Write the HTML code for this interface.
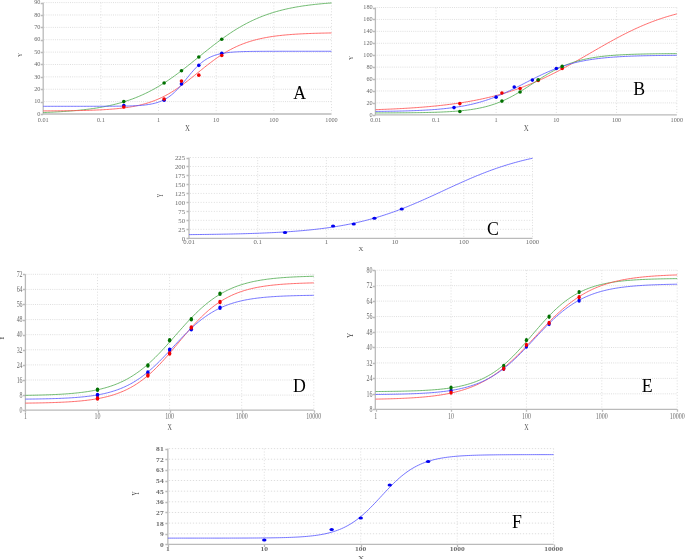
<!DOCTYPE html>
<html><head><meta charset="utf-8"><style>
html,body{margin:0;padding:0;background:#fff;}
body{width:685px;height:559px;overflow:hidden;}
svg{display:block;font-family:"Liberation Serif",serif;filter:blur(0.3px);}
</style></head><body>
<svg width="685" height="559" viewBox="0 0 685 559">
<rect width="685" height="559" fill="#fff"/>
<g><path d="M44.2 101.62H331.5M44.2 89.24H331.5M44.2 76.87H331.5M44.2 64.49H331.5M44.2 52.11H331.5M44.2 39.73H331.5M44.2 27.36H331.5M44.2 14.98H331.5M44.2 2.6H331.5" stroke="#dedede" stroke-width="1" stroke-dasharray="1 1.15" fill="none"/><path d="M100.86 2.6V113M158.52 2.6V113M216.18 2.6V113M273.84 2.6V113M331.5 2.6V113" stroke="#dedede" stroke-width="1" stroke-dasharray="1 1.9" fill="none"/><path d="M43.2 2.6V114M43.2 114H331.5M40.7 114.5H43.2M40.7 102.5H43.2M40.7 89.5H43.2M40.7 77.5H43.2M40.7 64.5H43.2M40.7 52.5H43.2M40.7 40.5H43.2M40.7 27.5H43.2M40.7 15.5H43.2M40.7 3.5H43.2" stroke="#bababa" stroke-width="1.3" fill="none"/><g font-size="6.7" fill="#6a6a6a"><text transform="translate(40.4 115.71) scale(0.93 1)" text-anchor="end">0</text><text transform="translate(40.4 103.33) scale(0.93 1)" text-anchor="end">10</text><text transform="translate(40.4 90.96) scale(0.93 1)" text-anchor="end">20</text><text transform="translate(40.4 78.58) scale(0.93 1)" text-anchor="end">30</text><text transform="translate(40.4 66.2) scale(0.93 1)" text-anchor="end">40</text><text transform="translate(40.4 53.82) scale(0.93 1)" text-anchor="end">50</text><text transform="translate(40.4 41.44) scale(0.93 1)" text-anchor="end">60</text><text transform="translate(40.4 29.07) scale(0.93 1)" text-anchor="end">70</text><text transform="translate(40.4 16.69) scale(0.93 1)" text-anchor="end">80</text><text transform="translate(40.4 4.31) scale(0.93 1)" text-anchor="end">90</text><text transform="translate(43.2 121.9) scale(0.93 1)" text-anchor="middle">0.01</text><text transform="translate(100.86 121.9) scale(0.93 1)" text-anchor="middle">0.1</text><text transform="translate(158.52 121.9) scale(0.93 1)" text-anchor="middle">1</text><text transform="translate(216.18 121.9) scale(0.93 1)" text-anchor="middle">10</text><text transform="translate(273.84 121.9) scale(0.93 1)" text-anchor="middle">100</text><text transform="translate(331.5 121.9) scale(0.93 1)" text-anchor="middle">1000</text></g><text transform="translate(187.5 130.9) scale(0.93 1)" text-anchor="middle" font-size="7.4" fill="#555">X</text><text transform="translate(19.5 54.8) scale(1.08 0.89) rotate(-90)" text-anchor="middle" y="2.13" font-size="6.5" fill="#444">Y</text><path d="M43.2 112.52L44.64 112.46L46.08 112.4L47.52 112.34L48.97 112.28L50.41 112.22L51.85 112.15L53.29 112.08L54.73 112.01L56.17 111.93L57.62 111.85L59.06 111.77L60.5 111.68L61.94 111.59L63.38 111.5L64.82 111.41L66.26 111.31L67.71 111.2L69.15 111.09L70.59 110.98L72.03 110.86L73.47 110.74L74.91 110.61L76.35 110.48L77.8 110.35L79.24 110.2L80.68 110.06L82.12 109.9L83.56 109.74L85 109.58L86.44 109.4L87.89 109.23L89.33 109.04L90.77 108.85L92.21 108.65L93.65 108.44L95.09 108.22L96.54 108L97.98 107.77L99.42 107.52L100.86 107.27L102.3 107.02L103.74 106.75L105.18 106.47L106.63 106.18L108.07 105.88L109.51 105.57L110.95 105.25L112.39 104.92L113.83 104.57L115.28 104.21L116.72 103.85L118.16 103.46L119.6 103.07L121.04 102.66L122.48 102.24L123.92 101.8L125.37 101.35L126.81 100.89L128.25 100.41L129.69 99.91L131.13 99.4L132.57 98.88L134.01 98.33L135.46 97.77L136.9 97.2L138.34 96.61L139.78 96L141.22 95.37L142.66 94.72L144.11 94.06L145.55 93.38L146.99 92.68L148.43 91.96L149.87 91.23L151.31 90.47L152.75 89.7L154.2 88.91L155.64 88.1L157.08 87.27L158.52 86.42L159.96 85.56L161.4 84.68L162.84 83.78L164.29 82.86L165.73 81.92L167.17 80.97L168.61 80L170.05 79.02L171.49 78.02L172.94 77L174.38 75.97L175.82 74.93L177.26 73.87L178.7 72.8L180.14 71.71L181.58 70.62L183.03 69.51L184.47 68.4L185.91 67.27L187.35 66.14L188.79 65L190.23 63.85L191.67 62.7L193.12 61.54L194.56 60.38L196 59.22L197.44 58.05L198.88 56.89L200.32 55.72L201.77 54.56L203.21 53.39L204.65 52.23L206.09 51.08L207.53 49.93L208.97 48.79L210.41 47.65L211.86 46.52L213.3 45.4L214.74 44.29L216.18 43.19L217.62 42.1L219.06 41.02L220.5 39.95L221.95 38.9L223.39 37.86L224.83 36.84L226.27 35.83L227.71 34.84L229.15 33.86L230.6 32.9L232.04 31.95L233.48 31.03L234.92 30.12L236.36 29.23L237.8 28.35L239.24 27.5L240.69 26.66L242.13 25.84L243.57 25.04L245.01 24.25L246.45 23.49L247.89 22.75L249.33 22.02L250.78 21.31L252.22 20.62L253.66 19.95L255.1 19.29L256.54 18.65L257.98 18.03L259.43 17.43L260.87 16.85L262.31 16.28L263.75 15.73L265.19 15.19L266.63 14.67L268.07 14.17L269.52 13.68L270.96 13.21L272.4 12.75L273.84 12.31L275.28 11.88L276.72 11.46L278.16 11.06L279.61 10.67L281.05 10.3L282.49 9.93L283.93 9.58L285.37 9.24L286.81 8.92L288.25 8.6L289.7 8.3L291.14 8L292.58 7.72L294.02 7.44L295.46 7.18L296.9 6.92L298.35 6.68L299.79 6.44L301.23 6.21L302.67 5.99L304.11 5.78L305.55 5.58L306.99 5.38L308.44 5.19L309.88 5.01L311.32 4.83L312.76 4.66L314.2 4.5L315.64 4.34L317.08 4.19L318.53 4.05L319.97 3.91L321.41 3.77L322.85 3.64L324.29 3.52L325.73 3.4L327.18 3.28L328.62 3.17L330.06 3.07L331.5 2.96" stroke="#55ad55" stroke-width="0.85" fill="none"/><path d="M43.2 110.9L44.64 110.9L46.08 110.89L47.52 110.88L48.97 110.88L50.41 110.87L51.85 110.86L53.29 110.85L54.73 110.84L56.17 110.83L57.62 110.82L59.06 110.81L60.5 110.79L61.94 110.78L63.38 110.77L64.82 110.75L66.26 110.74L67.71 110.72L69.15 110.7L70.59 110.68L72.03 110.66L73.47 110.64L74.91 110.62L76.35 110.59L77.8 110.57L79.24 110.54L80.68 110.51L82.12 110.48L83.56 110.44L85 110.41L86.44 110.37L87.89 110.33L89.33 110.29L90.77 110.24L92.21 110.19L93.65 110.14L95.09 110.08L96.54 110.03L97.98 109.96L99.42 109.9L100.86 109.83L102.3 109.76L103.74 109.68L105.18 109.59L106.63 109.5L108.07 109.41L109.51 109.31L110.95 109.2L112.39 109.09L113.83 108.97L115.28 108.84L116.72 108.71L118.16 108.57L119.6 108.42L121.04 108.26L122.48 108.09L123.92 107.91L125.37 107.72L126.81 107.52L128.25 107.3L129.69 107.08L131.13 106.84L132.57 106.59L134.01 106.32L135.46 106.04L136.9 105.75L138.34 105.44L139.78 105.11L141.22 104.76L142.66 104.39L144.11 104.01L145.55 103.61L146.99 103.18L148.43 102.74L149.87 102.27L151.31 101.78L152.75 101.26L154.2 100.72L155.64 100.16L157.08 99.57L158.52 98.95L159.96 98.31L161.4 97.64L162.84 96.95L164.29 96.23L165.73 95.47L167.17 94.7L168.61 93.89L170.05 93.06L171.49 92.19L172.94 91.31L174.38 90.39L175.82 89.45L177.26 88.48L178.7 87.49L180.14 86.48L181.58 85.44L183.03 84.39L184.47 83.31L185.91 82.21L187.35 81.1L188.79 79.98L190.23 78.84L191.67 77.69L193.12 76.53L194.56 75.37L196 74.2L197.44 73.02L198.88 71.85L200.32 70.68L201.77 69.51L203.21 68.35L204.65 67.2L206.09 66.05L207.53 64.92L208.97 63.8L210.41 62.7L211.86 61.61L213.3 60.54L214.74 59.49L216.18 58.46L217.62 57.46L219.06 56.47L220.5 55.51L221.95 54.58L223.39 53.67L224.83 52.78L226.27 51.92L227.71 51.09L229.15 50.28L230.6 49.5L232.04 48.75L233.48 48.02L234.92 47.32L236.36 46.64L237.8 45.99L239.24 45.36L240.69 44.76L242.13 44.18L243.57 43.63L245.01 43.1L246.45 42.59L247.89 42.1L249.33 41.63L250.78 41.19L252.22 40.76L253.66 40.35L255.1 39.96L256.54 39.59L257.98 39.24L259.43 38.9L260.87 38.58L262.31 38.27L263.75 37.98L265.19 37.7L266.63 37.44L268.07 37.18L269.52 36.94L270.96 36.72L272.4 36.5L273.84 36.29L275.28 36.1L276.72 35.91L278.16 35.74L279.61 35.57L281.05 35.41L282.49 35.26L283.93 35.11L285.37 34.98L286.81 34.85L288.25 34.73L289.7 34.61L291.14 34.5L292.58 34.39L294.02 34.3L295.46 34.2L296.9 34.11L298.35 34.03L299.79 33.95L301.23 33.87L302.67 33.8L304.11 33.73L305.55 33.67L306.99 33.61L308.44 33.55L309.88 33.49L311.32 33.44L312.76 33.39L314.2 33.34L315.64 33.3L317.08 33.26L318.53 33.22L319.97 33.18L321.41 33.14L322.85 33.11L324.29 33.08L325.73 33.05L327.18 33.02L328.62 32.99L330.06 32.97L331.5 32.94" stroke="#ff5252" stroke-width="0.85" fill="none"/><path d="M43.2 106.3L44.64 106.3L46.08 106.3L47.52 106.3L48.97 106.3L50.41 106.3L51.85 106.3L53.29 106.3L54.73 106.3L56.17 106.3L57.62 106.3L59.06 106.3L60.5 106.3L61.94 106.3L63.38 106.3L64.82 106.3L66.26 106.3L67.71 106.3L69.15 106.3L70.59 106.3L72.03 106.3L73.47 106.3L74.91 106.3L76.35 106.3L77.8 106.3L79.24 106.3L80.68 106.3L82.12 106.3L83.56 106.3L85 106.3L86.44 106.29L87.89 106.29L89.33 106.29L90.77 106.29L92.21 106.29L93.65 106.29L95.09 106.29L96.54 106.28L97.98 106.28L99.42 106.28L100.86 106.28L102.3 106.27L103.74 106.27L105.18 106.26L106.63 106.26L108.07 106.25L109.51 106.25L110.95 106.24L112.39 106.23L113.83 106.22L115.28 106.21L116.72 106.19L118.16 106.18L119.6 106.16L121.04 106.14L122.48 106.12L123.92 106.1L125.37 106.07L126.81 106.04L128.25 106L129.69 105.96L131.13 105.92L132.57 105.86L134.01 105.8L135.46 105.73L136.9 105.66L138.34 105.57L139.78 105.47L141.22 105.36L142.66 105.23L144.11 105.09L145.55 104.92L146.99 104.74L148.43 104.53L149.87 104.3L151.31 104.03L152.75 103.73L154.2 103.4L155.64 103.02L157.08 102.6L158.52 102.13L159.96 101.6L161.4 101.02L162.84 100.37L164.29 99.65L165.73 98.86L167.17 97.99L168.61 97.04L170.05 96L171.49 94.88L172.94 93.66L174.38 92.36L175.82 90.98L177.26 89.51L178.7 87.97L180.14 86.36L181.58 84.7L183.03 82.98L184.47 81.23L185.91 79.47L187.35 77.69L188.79 75.93L190.23 74.19L191.67 72.48L193.12 70.83L194.56 69.23L196 67.71L197.44 66.26L198.88 64.9L200.32 63.62L201.77 62.43L203.21 61.32L204.65 60.31L206.09 59.37L207.53 58.52L208.97 57.75L210.41 57.05L211.86 56.41L213.3 55.84L214.74 55.33L216.18 54.87L217.62 54.46L219.06 54.09L220.5 53.77L221.95 53.48L223.39 53.22L224.83 52.99L226.27 52.79L227.71 52.61L229.15 52.45L230.6 52.31L232.04 52.19L233.48 52.08L234.92 51.98L236.36 51.9L237.8 51.82L239.24 51.76L240.69 51.7L242.13 51.65L243.57 51.6L245.01 51.56L246.45 51.53L247.89 51.5L249.33 51.47L250.78 51.44L252.22 51.42L253.66 51.41L255.1 51.39L256.54 51.37L257.98 51.36L259.43 51.35L260.87 51.34L262.31 51.33L263.75 51.33L265.19 51.32L266.63 51.31L268.07 51.31L269.52 51.3L270.96 51.3L272.4 51.3L273.84 51.29L275.28 51.29L276.72 51.29L278.16 51.29L279.61 51.28L281.05 51.28L282.49 51.28L283.93 51.28L285.37 51.28L286.81 51.28L288.25 51.28L289.7 51.28L291.14 51.28L292.58 51.28L294.02 51.27L295.46 51.27L296.9 51.27L298.35 51.27L299.79 51.27L301.23 51.27L302.67 51.27L304.11 51.27L305.55 51.27L306.99 51.27L308.44 51.27L309.88 51.27L311.32 51.27L312.76 51.27L314.2 51.27L315.64 51.27L317.08 51.27L318.53 51.27L319.97 51.27L321.41 51.27L322.85 51.27L324.29 51.27L325.73 51.27L327.18 51.27L328.62 51.27L330.06 51.27L331.5 51.27" stroke="#5c5cff" stroke-width="0.85" fill="none"/><ellipse cx="123.81" cy="105.58" rx="1.8" ry="1.8" fill="#0000f0"/><ellipse cx="164.11" cy="100.26" rx="1.8" ry="1.8" fill="#0000f0"/><ellipse cx="181.47" cy="83.92" rx="1.8" ry="1.8" fill="#0000f0"/><ellipse cx="198.82" cy="65.36" rx="1.8" ry="1.8" fill="#0000f0"/><ellipse cx="221.77" cy="53.23" rx="1.8" ry="1.8" fill="#0000f0"/><ellipse cx="123.81" cy="101.62" rx="1.8" ry="1.8" fill="#007000"/><ellipse cx="164.11" cy="82.93" rx="1.8" ry="1.8" fill="#007000"/><ellipse cx="181.47" cy="70.8" rx="1.8" ry="1.8" fill="#007000"/><ellipse cx="198.82" cy="56.94" rx="1.8" ry="1.8" fill="#007000"/><ellipse cx="221.77" cy="39.24" rx="1.8" ry="1.8" fill="#007000"/><ellipse cx="123.81" cy="107.07" rx="1.8" ry="1.8" fill="#f00000"/><ellipse cx="164.11" cy="99.02" rx="1.8" ry="1.8" fill="#f00000"/><ellipse cx="181.47" cy="81.08" rx="1.8" ry="1.8" fill="#f00000"/><ellipse cx="198.82" cy="75.13" rx="1.8" ry="1.8" fill="#f00000"/><ellipse cx="221.77" cy="55.45" rx="1.8" ry="1.8" fill="#f00000"/><text x="293.3" y="99" font-size="17.8" fill="#000">A</text></g>
<g><path d="M376.65 102.88H676.8M376.65 90.96H676.8M376.65 79.03H676.8M376.65 67.11H676.8M376.65 55.19H676.8M376.65 43.27H676.8M376.65 31.34H676.8M376.65 19.42H676.8M376.65 7.5H676.8" stroke="#dedede" stroke-width="1" stroke-dasharray="1 1.15" fill="none"/><path d="M435.88 7.5V113.8M496.11 7.5V113.8M556.34 7.5V113.8M616.57 7.5V113.8M676.8 7.5V113.8" stroke="#dedede" stroke-width="1" stroke-dasharray="1 1.9" fill="none"/><path d="M375.4 7.5V114.8M375.4 114.8H676.8M372.9 115.5H375.4M372.9 103.5H375.4M372.9 91.5H375.4M372.9 79.5H375.4M372.9 67.5H375.4M372.9 55.5H375.4M372.9 43.5H375.4M372.9 31.5H375.4M372.9 19.5H375.4M372.9 8.5H375.4" stroke="#bababa" stroke-width="1.3" fill="none"/><g font-size="6.7" fill="#6a6a6a"><text transform="translate(372.6 116.51) scale(0.93 1)" text-anchor="end">0</text><text transform="translate(372.6 104.59) scale(0.93 1)" text-anchor="end">20</text><text transform="translate(372.6 92.67) scale(0.93 1)" text-anchor="end">40</text><text transform="translate(372.6 80.74) scale(0.93 1)" text-anchor="end">60</text><text transform="translate(372.6 68.82) scale(0.93 1)" text-anchor="end">80</text><text transform="translate(372.6 56.9) scale(0.93 1)" text-anchor="end">100</text><text transform="translate(372.6 44.98) scale(0.93 1)" text-anchor="end">120</text><text transform="translate(372.6 33.06) scale(0.93 1)" text-anchor="end">140</text><text transform="translate(372.6 21.13) scale(0.93 1)" text-anchor="end">160</text><text transform="translate(372.6 9.21) scale(0.93 1)" text-anchor="end">180</text><text transform="translate(375.65 121.9) scale(0.93 1)" text-anchor="middle">0.01</text><text transform="translate(435.88 121.9) scale(0.93 1)" text-anchor="middle">0.1</text><text transform="translate(496.11 121.9) scale(0.93 1)" text-anchor="middle">1</text><text transform="translate(556.34 121.9) scale(0.93 1)" text-anchor="middle">10</text><text transform="translate(616.57 121.9) scale(0.93 1)" text-anchor="middle">100</text><text transform="translate(676.8 121.9) scale(0.93 1)" text-anchor="middle">1000</text></g><text transform="translate(526.2 130.8) scale(0.93 1)" text-anchor="middle" font-size="7.4" fill="#555">X</text><text transform="translate(350.4 58) scale(1.08 0.89) rotate(-90)" text-anchor="middle" y="2.13" font-size="6.5" fill="#444">Y</text><path d="M375.65 109.67L377.16 109.61L378.66 109.56L380.17 109.51L381.67 109.45L383.18 109.39L384.68 109.33L386.19 109.27L387.7 109.21L389.2 109.14L390.71 109.08L392.21 109.01L393.72 108.94L395.22 108.86L396.73 108.79L398.24 108.71L399.74 108.63L401.25 108.55L402.75 108.47L404.26 108.39L405.76 108.3L407.27 108.21L408.78 108.12L410.28 108.02L411.79 107.92L413.29 107.82L414.8 107.72L416.31 107.61L417.81 107.5L419.32 107.39L420.82 107.28L422.33 107.16L423.83 107.04L425.34 106.91L426.85 106.79L428.35 106.65L429.86 106.52L431.36 106.38L432.87 106.24L434.37 106.09L435.88 105.94L437.39 105.79L438.89 105.63L440.4 105.47L441.9 105.3L443.41 105.13L444.91 104.96L446.42 104.78L447.93 104.59L449.43 104.4L450.94 104.21L452.44 104.01L453.95 103.81L455.45 103.6L456.96 103.38L458.47 103.16L459.97 102.94L461.48 102.71L462.98 102.47L464.49 102.23L465.99 101.98L467.5 101.72L469.01 101.46L470.51 101.19L472.02 100.92L473.52 100.64L475.03 100.35L476.54 100.05L478.04 99.75L479.55 99.44L481.05 99.13L482.56 98.8L484.06 98.47L485.57 98.13L487.08 97.79L488.58 97.43L490.09 97.07L491.59 96.7L493.1 96.32L494.6 95.94L496.11 95.54L497.62 95.14L499.12 94.72L500.63 94.3L502.13 93.87L503.64 93.43L505.14 92.98L506.65 92.52L508.16 92.06L509.66 91.58L511.17 91.09L512.67 90.6L514.18 90.09L515.68 89.58L517.19 89.05L518.7 88.52L520.2 87.97L521.71 87.42L523.21 86.86L524.72 86.28L526.22 85.7L527.73 85.1L529.24 84.5L530.74 83.89L532.25 83.26L533.75 82.63L535.26 81.99L536.77 81.33L538.27 80.67L539.78 80L541.28 79.32L542.79 78.63L544.29 77.92L545.8 77.21L547.31 76.49L548.81 75.77L550.32 75.03L551.82 74.28L553.33 73.53L554.83 72.77L556.34 72L557.85 71.22L559.35 70.43L560.86 69.64L562.36 68.84L563.87 68.03L565.37 67.22L566.88 66.4L568.39 65.57L569.89 64.74L571.4 63.9L572.9 63.06L574.41 62.21L575.91 61.36L577.42 60.51L578.93 59.65L580.43 58.78L581.94 57.92L583.44 57.05L584.95 56.18L586.45 55.31L587.96 54.44L589.47 53.57L590.97 52.7L592.48 51.82L593.98 50.95L595.49 50.08L597 49.21L598.5 48.35L600.01 47.48L601.51 46.62L603.02 45.76L604.52 44.9L606.03 44.05L607.54 43.2L609.04 42.36L610.55 41.52L612.05 40.69L613.56 39.87L615.06 39.05L616.57 38.24L618.08 37.43L619.58 36.63L621.09 35.85L622.59 35.06L624.1 34.29L625.6 33.53L627.11 32.77L628.62 32.03L630.12 31.29L631.63 30.56L633.13 29.85L634.64 29.14L636.14 28.44L637.65 27.76L639.16 27.08L640.66 26.42L642.17 25.77L643.67 25.13L645.18 24.5L646.68 23.88L648.19 23.27L649.7 22.68L651.2 22.09L652.71 21.52L654.21 20.96L655.72 20.41L657.23 19.87L658.73 19.35L660.24 18.84L661.74 18.33L663.25 17.84L664.75 17.36L666.26 16.89L667.77 16.44L669.27 15.99L670.78 15.56L672.28 15.13L673.79 14.72L675.29 14.32L676.8 13.93" stroke="#ff5252" stroke-width="0.85" fill="none"/><path d="M375.65 112.93L377.16 112.92L378.66 112.92L380.17 112.91L381.67 112.91L383.18 112.91L384.68 112.9L386.19 112.9L387.7 112.89L389.2 112.89L390.71 112.88L392.21 112.87L393.72 112.87L395.22 112.86L396.73 112.85L398.24 112.84L399.74 112.83L401.25 112.82L402.75 112.81L404.26 112.8L405.76 112.79L407.27 112.78L408.78 112.76L410.28 112.75L411.79 112.73L413.29 112.71L414.8 112.7L416.31 112.68L417.81 112.65L419.32 112.63L420.82 112.61L422.33 112.58L423.83 112.56L425.34 112.53L426.85 112.49L428.35 112.46L429.86 112.42L431.36 112.39L432.87 112.34L434.37 112.3L435.88 112.25L437.39 112.2L438.89 112.15L440.4 112.09L441.9 112.03L443.41 111.96L444.91 111.89L446.42 111.82L447.93 111.74L449.43 111.65L450.94 111.56L452.44 111.46L453.95 111.36L455.45 111.25L456.96 111.13L458.47 111L459.97 110.87L461.48 110.72L462.98 110.57L464.49 110.41L465.99 110.23L467.5 110.05L469.01 109.85L470.51 109.64L472.02 109.42L473.52 109.18L475.03 108.93L476.54 108.67L478.04 108.39L479.55 108.09L481.05 107.77L482.56 107.44L484.06 107.08L485.57 106.71L487.08 106.32L488.58 105.9L490.09 105.47L491.59 105.01L493.1 104.53L494.6 104.02L496.11 103.49L497.62 102.93L499.12 102.35L500.63 101.74L502.13 101.11L503.64 100.45L505.14 99.77L506.65 99.06L508.16 98.32L509.66 97.56L511.17 96.77L512.67 95.96L514.18 95.13L515.68 94.28L517.19 93.4L518.7 92.51L520.2 91.59L521.71 90.66L523.21 89.72L524.72 88.76L526.22 87.79L527.73 86.82L529.24 85.83L530.74 84.85L532.25 83.86L533.75 82.87L535.26 81.88L536.77 80.89L538.27 79.92L539.78 78.95L541.28 77.99L542.79 77.04L544.29 76.11L545.8 75.2L547.31 74.3L548.81 73.42L550.32 72.56L551.82 71.72L553.33 70.9L554.83 70.11L556.34 69.34L557.85 68.59L559.35 67.87L560.86 67.18L562.36 66.5L563.87 65.86L565.37 65.24L566.88 64.64L568.39 64.07L569.89 63.52L571.4 62.99L572.9 62.49L574.41 62.01L575.91 61.55L577.42 61.11L578.93 60.7L580.43 60.3L581.94 59.92L583.44 59.57L584.95 59.23L586.45 58.9L587.96 58.6L589.47 58.31L590.97 58.03L592.48 57.77L593.98 57.53L595.49 57.29L597 57.07L598.5 56.86L600.01 56.67L601.51 56.48L603.02 56.3L604.52 56.14L606.03 55.98L607.54 55.83L609.04 55.7L610.55 55.56L612.05 55.44L613.56 55.32L615.06 55.21L616.57 55.11L618.08 55.01L619.58 54.92L621.09 54.83L622.59 54.75L624.1 54.67L625.6 54.6L627.11 54.53L628.62 54.47L630.12 54.41L631.63 54.35L633.13 54.3L634.64 54.25L636.14 54.2L637.65 54.16L639.16 54.12L640.66 54.08L642.17 54.04L643.67 54L645.18 53.97L646.68 53.94L648.19 53.91L649.7 53.88L651.2 53.86L652.71 53.83L654.21 53.81L655.72 53.79L657.23 53.77L658.73 53.75L660.24 53.73L661.74 53.72L663.25 53.7L664.75 53.69L666.26 53.67L667.77 53.66L669.27 53.65L670.78 53.64L672.28 53.63L673.79 53.62L675.29 53.61L676.8 53.6" stroke="#55ad55" stroke-width="0.85" fill="none"/><path d="M375.65 111.44L377.16 111.42L378.66 111.41L380.17 111.39L381.67 111.37L383.18 111.35L384.68 111.33L386.19 111.31L387.7 111.29L389.2 111.27L390.71 111.24L392.21 111.21L393.72 111.19L395.22 111.16L396.73 111.13L398.24 111.1L399.74 111.06L401.25 111.03L402.75 110.99L404.26 110.95L405.76 110.91L407.27 110.86L408.78 110.82L410.28 110.77L411.79 110.72L413.29 110.66L414.8 110.61L416.31 110.55L417.81 110.48L419.32 110.42L420.82 110.35L422.33 110.27L423.83 110.2L425.34 110.12L426.85 110.03L428.35 109.94L429.86 109.85L431.36 109.75L432.87 109.64L434.37 109.53L435.88 109.42L437.39 109.3L438.89 109.17L440.4 109.03L441.9 108.89L443.41 108.75L444.91 108.59L446.42 108.43L447.93 108.26L449.43 108.08L450.94 107.9L452.44 107.7L453.95 107.5L455.45 107.28L456.96 107.06L458.47 106.82L459.97 106.58L461.48 106.32L462.98 106.06L464.49 105.78L465.99 105.49L467.5 105.18L469.01 104.87L470.51 104.54L472.02 104.19L473.52 103.84L475.03 103.46L476.54 103.08L478.04 102.68L479.55 102.26L481.05 101.83L482.56 101.38L484.06 100.92L485.57 100.44L487.08 99.95L488.58 99.44L490.09 98.91L491.59 98.37L493.1 97.82L494.6 97.24L496.11 96.65L497.62 96.05L499.12 95.43L500.63 94.8L502.13 94.15L503.64 93.49L505.14 92.81L506.65 92.12L508.16 91.42L509.66 90.71L511.17 89.99L512.67 89.26L514.18 88.52L515.68 87.77L517.19 87.02L518.7 86.26L520.2 85.49L521.71 84.72L523.21 83.95L524.72 83.18L526.22 82.41L527.73 81.63L529.24 80.86L530.74 80.1L532.25 79.33L533.75 78.58L535.26 77.83L536.77 77.08L538.27 76.35L539.78 75.62L541.28 74.91L542.79 74.2L544.29 73.51L545.8 72.83L547.31 72.17L548.81 71.52L550.32 70.88L551.82 70.26L553.33 69.65L554.83 69.06L556.34 68.48L557.85 67.92L559.35 67.38L560.86 66.85L562.36 66.34L563.87 65.85L565.37 65.37L566.88 64.91L568.39 64.46L569.89 64.04L571.4 63.62L572.9 63.23L574.41 62.84L575.91 62.48L577.42 62.12L578.93 61.79L580.43 61.46L581.94 61.15L583.44 60.86L584.95 60.57L586.45 60.3L587.96 60.04L589.47 59.79L590.97 59.56L592.48 59.33L593.98 59.12L595.49 58.91L597 58.72L598.5 58.53L600.01 58.35L601.51 58.18L603.02 58.02L604.52 57.87L606.03 57.73L607.54 57.59L609.04 57.46L610.55 57.34L612.05 57.22L613.56 57.11L615.06 57L616.57 56.9L618.08 56.81L619.58 56.72L621.09 56.63L622.59 56.55L624.1 56.47L625.6 56.4L627.11 56.33L628.62 56.27L630.12 56.2L631.63 56.15L633.13 56.09L634.64 56.04L636.14 55.99L637.65 55.94L639.16 55.9L640.66 55.86L642.17 55.82L643.67 55.78L645.18 55.74L646.68 55.71L648.19 55.68L649.7 55.65L651.2 55.62L652.71 55.59L654.21 55.57L655.72 55.54L657.23 55.52L658.73 55.5L660.24 55.48L661.74 55.46L663.25 55.44L664.75 55.43L666.26 55.41L667.77 55.39L669.27 55.38L670.78 55.37L672.28 55.35L673.79 55.34L675.29 55.33L676.8 55.32" stroke="#5c5cff" stroke-width="0.85" fill="none"/><ellipse cx="459.85" cy="103.59" rx="1.8" ry="1.8" fill="#f00000"/><ellipse cx="501.95" cy="93.04" rx="1.8" ry="1.8" fill="#f00000"/><ellipse cx="520.08" cy="88.51" rx="1.8" ry="1.8" fill="#f00000"/><ellipse cx="538.21" cy="80.52" rx="1.8" ry="1.8" fill="#f00000"/><ellipse cx="562.18" cy="68.54" rx="1.8" ry="1.8" fill="#f00000"/><ellipse cx="459.85" cy="111.52" rx="1.8" ry="1.8" fill="#007000"/><ellipse cx="501.95" cy="101.09" rx="1.8" ry="1.8" fill="#007000"/><ellipse cx="520.08" cy="92.03" rx="1.8" ry="1.8" fill="#007000"/><ellipse cx="538.21" cy="79.75" rx="1.8" ry="1.8" fill="#007000"/><ellipse cx="562.18" cy="66.4" rx="1.8" ry="1.8" fill="#007000"/><ellipse cx="454.01" cy="107.59" rx="1.8" ry="1.8" fill="#0000f0"/><ellipse cx="496.11" cy="97.16" rx="1.8" ry="1.8" fill="#0000f0"/><ellipse cx="514.24" cy="86.96" rx="1.8" ry="1.8" fill="#0000f0"/><ellipse cx="532.37" cy="80.11" rx="1.8" ry="1.8" fill="#0000f0"/><ellipse cx="556.34" cy="68.54" rx="1.8" ry="1.8" fill="#0000f0"/><text x="633.3" y="94.9" font-size="17.8" fill="#000">B</text></g>
<g><path d="M190 229.32H532.5M190 220.34H532.5M190 211.37H532.5M190 202.39H532.5M190 193.41H532.5M190 184.43H532.5M190 175.46H532.5M190 166.48H532.5M190 157.5H532.5" stroke="#dedede" stroke-width="1" stroke-dasharray="1 1.65" fill="none"/><path d="M257.7 157.5V237.3M326.4 157.5V237.3M395.1 157.5V237.3M463.8 157.5V237.3M532.5 157.5V237.3" stroke="#dedede" stroke-width="1" stroke-dasharray="1 1.7" fill="none"/><path d="M189 157.5V238.3M189 238.3H532.5M186.5 238.5H189M186.5 229.5H189M186.5 220.5H189M186.5 211.5H189M186.5 202.5H189M186.5 193.5H189M186.5 184.5H189M186.5 175.5H189M186.5 166.5H189M186.5 158.5H189" stroke="#bababa" stroke-width="1.3" fill="none"/><g font-size="6.0" fill="#6a6a6a"><text transform="translate(185 240.78) scale(1.12 1)" text-anchor="end">0</text><text transform="translate(185 231.8) scale(1.12 1)" text-anchor="end">25</text><text transform="translate(185 222.82) scale(1.12 1)" text-anchor="end">50</text><text transform="translate(185 213.85) scale(1.12 1)" text-anchor="end">75</text><text transform="translate(185 204.87) scale(1.12 1)" text-anchor="end">100</text><text transform="translate(185 195.89) scale(1.12 1)" text-anchor="end">125</text><text transform="translate(185 186.91) scale(1.12 1)" text-anchor="end">150</text><text transform="translate(185 177.94) scale(1.12 1)" text-anchor="end">175</text><text transform="translate(185 168.96) scale(1.12 1)" text-anchor="end">200</text><text transform="translate(185 159.98) scale(1.12 1)" text-anchor="end">225</text><text transform="translate(189 244.4) scale(1.12 1)" text-anchor="middle">0.01</text><text transform="translate(257.7 244.4) scale(1.12 1)" text-anchor="middle">0.1</text><text transform="translate(326.4 244.4) scale(1.12 1)" text-anchor="middle">1</text><text transform="translate(395.1 244.4) scale(1.12 1)" text-anchor="middle">10</text><text transform="translate(463.8 244.4) scale(1.12 1)" text-anchor="middle">100</text><text transform="translate(532.5 244.4) scale(1.12 1)" text-anchor="middle">1000</text></g><text transform="translate(360.9 250.5) scale(1.12 1)" text-anchor="middle" font-size="6.0" fill="#555">X</text><text transform="translate(160.3 195.4) scale(1.32 0.8) rotate(-90)" text-anchor="middle" y="1.97" font-size="6.0" fill="#444">Y</text><path d="M189 234.62L190.72 234.61L192.44 234.59L194.15 234.57L195.87 234.56L197.59 234.54L199.31 234.52L201.02 234.5L202.74 234.48L204.46 234.46L206.18 234.44L207.89 234.41L209.61 234.39L211.33 234.37L213.05 234.34L214.76 234.32L216.48 234.29L218.2 234.26L219.91 234.23L221.63 234.2L223.35 234.17L225.07 234.14L226.78 234.11L228.5 234.07L230.22 234.04L231.94 234L233.66 233.96L235.37 233.92L237.09 233.88L238.81 233.84L240.53 233.79L242.24 233.75L243.96 233.7L245.68 233.65L247.4 233.6L249.11 233.55L250.83 233.5L252.55 233.44L254.26 233.38L255.98 233.32L257.7 233.26L259.42 233.2L261.13 233.13L262.85 233.06L264.57 232.99L266.29 232.92L268 232.84L269.72 232.76L271.44 232.68L273.16 232.6L274.88 232.51L276.59 232.42L278.31 232.33L280.03 232.23L281.75 232.13L283.46 232.03L285.18 231.92L286.9 231.81L288.62 231.69L290.33 231.58L292.05 231.45L293.77 231.33L295.49 231.2L297.2 231.06L298.92 230.92L300.64 230.78L302.36 230.63L304.07 230.48L305.79 230.32L307.51 230.16L309.23 229.99L310.94 229.81L312.66 229.63L314.38 229.45L316.1 229.26L317.81 229.06L319.53 228.85L321.25 228.64L322.97 228.43L324.68 228.2L326.4 227.97L328.12 227.74L329.83 227.49L331.55 227.24L333.27 226.98L334.99 226.71L336.7 226.44L338.42 226.15L340.14 225.86L341.86 225.56L343.58 225.25L345.29 224.94L347.01 224.61L348.73 224.27L350.45 223.93L352.16 223.58L353.88 223.21L355.6 222.84L357.32 222.46L359.03 222.06L360.75 221.66L362.47 221.25L364.19 220.82L365.9 220.39L367.62 219.94L369.34 219.49L371.06 219.02L372.77 218.55L374.49 218.06L376.21 217.56L377.93 217.05L379.64 216.53L381.36 216L383.08 215.45L384.8 214.9L386.51 214.34L388.23 213.76L389.95 213.17L391.67 212.58L393.38 211.97L395.1 211.35L396.82 210.72L398.53 210.08L400.25 209.43L401.97 208.77L403.69 208.11L405.4 207.43L407.12 206.74L408.84 206.04L410.56 205.34L412.27 204.62L413.99 203.9L415.71 203.17L417.43 202.44L419.14 201.69L420.86 200.94L422.58 200.18L424.3 199.42L426.01 198.65L427.73 197.88L429.45 197.1L431.17 196.32L432.88 195.54L434.6 194.75L436.32 193.96L438.04 193.17L439.75 192.37L441.47 191.58L443.19 190.78L444.91 189.98L446.62 189.19L448.34 188.39L450.06 187.6L451.78 186.81L453.5 186.02L455.21 185.23L456.93 184.45L458.65 183.67L460.37 182.9L462.08 182.13L463.8 181.37L465.52 180.61L467.23 179.86L468.95 179.11L470.67 178.37L472.39 177.64L474.11 176.92L475.82 176.2L477.54 175.49L479.26 174.8L480.97 174.11L482.69 173.43L484.41 172.76L486.13 172.09L487.84 171.44L489.56 170.8L491.28 170.17L493 169.55L494.72 168.94L496.43 168.34L498.15 167.75L499.87 167.17L501.58 166.61L503.3 166.05L505.02 165.51L506.74 164.97L508.46 164.45L510.17 163.94L511.89 163.44L513.61 162.95L515.33 162.47L517.04 162L518.76 161.54L520.48 161.09L522.19 160.66L523.91 160.23L525.63 159.81L527.35 159.41L529.07 159.01L530.78 158.63L532.5 158.25" stroke="#5c5cff" stroke-width="0.85" fill="none"/><ellipse cx="285.04" cy="232.41" rx="2.1" ry="1.5" fill="#0000f0"/><ellipse cx="333.06" cy="225.91" rx="2.1" ry="1.5" fill="#0000f0"/><ellipse cx="353.74" cy="223.94" rx="2.1" ry="1.5" fill="#0000f0"/><ellipse cx="374.42" cy="218.19" rx="2.1" ry="1.5" fill="#0000f0"/><ellipse cx="401.76" cy="209" rx="2.1" ry="1.5" fill="#0000f0"/><text x="487" y="235.3" font-size="17.8" fill="#000">C</text></g>
<g><path d="M26.4 395.1H313.8M26.4 380H313.8M26.4 364.9H313.8M26.4 349.8H313.8M26.4 334.7H313.8M26.4 319.6H313.8M26.4 304.5H313.8M26.4 289.4H313.8M26.4 274.3H313.8" stroke="#dedede" stroke-width="1" stroke-dasharray="1 1.15" fill="none"/><path d="M97.5 274.3V409.2M169.6 274.3V409.2M241.7 274.3V409.2M313.8 274.3V409.2" stroke="#dedede" stroke-width="1" stroke-dasharray="1 1.9" fill="none"/><path d="M25.4 274.3V410.2M25.4 410.2H313.8M22.9 410.5H25.4M22.9 395.5H25.4M22.9 380.5H25.4M22.9 365.5H25.4M22.9 350.5H25.4M22.9 335.5H25.4M22.9 320.5H25.4M22.9 304.5H25.4M22.9 289.5H25.4M22.9 274.5H25.4M25.5 410.2V412.7M98.5 410.2V412.7M170.5 410.2V412.7M242.5 410.2V412.7M314.5 410.2V412.7" stroke="#bababa" stroke-width="1.3" fill="none"/><g font-size="8.3" fill="#6a6a6a"><text transform="translate(22.6 412.94) scale(0.72 1)" text-anchor="end">0</text><text transform="translate(22.6 397.84) scale(0.72 1)" text-anchor="end">8</text><text transform="translate(22.6 382.74) scale(0.72 1)" text-anchor="end">16</text><text transform="translate(22.6 367.64) scale(0.72 1)" text-anchor="end">24</text><text transform="translate(22.6 352.54) scale(0.72 1)" text-anchor="end">32</text><text transform="translate(22.6 337.44) scale(0.72 1)" text-anchor="end">40</text><text transform="translate(22.6 322.34) scale(0.72 1)" text-anchor="end">48</text><text transform="translate(22.6 307.24) scale(0.72 1)" text-anchor="end">56</text><text transform="translate(22.6 292.14) scale(0.72 1)" text-anchor="end">64</text><text transform="translate(22.6 277.04) scale(0.72 1)" text-anchor="end">72</text><text transform="translate(25.4 419.4) scale(0.72 1)" text-anchor="middle">1</text><text transform="translate(97.5 419.4) scale(0.72 1)" text-anchor="middle">10</text><text transform="translate(169.6 419.4) scale(0.72 1)" text-anchor="middle">100</text><text transform="translate(241.7 419.4) scale(0.72 1)" text-anchor="middle">1000</text><text transform="translate(313.8 419.4) scale(0.72 1)" text-anchor="middle">10000</text></g><text transform="translate(169.8 430) scale(0.72 1)" text-anchor="middle" font-size="8.5" fill="#555">X</text><text transform="translate(1 338.2) scale(1.03 0.92) rotate(-90)" text-anchor="middle" y="2.62" font-size="8.0" fill="#444">Y</text><path d="M25.4 395.37L26.84 395.35L28.28 395.32L29.73 395.3L31.17 395.27L32.61 395.24L34.05 395.21L35.49 395.18L36.94 395.15L38.38 395.11L39.82 395.07L41.26 395.04L42.7 394.99L44.15 394.95L45.59 394.9L47.03 394.85L48.47 394.8L49.91 394.75L51.36 394.69L52.8 394.63L54.24 394.56L55.68 394.5L57.12 394.43L58.57 394.35L60.01 394.27L61.45 394.19L62.89 394.1L64.33 394.01L65.78 393.91L67.22 393.8L68.66 393.7L70.1 393.58L71.54 393.46L72.99 393.33L74.43 393.2L75.87 393.05L77.31 392.9L78.75 392.75L80.2 392.58L81.64 392.41L83.08 392.22L84.52 392.03L85.96 391.83L87.41 391.61L88.85 391.39L90.29 391.15L91.73 390.9L93.17 390.64L94.62 390.36L96.06 390.07L97.5 389.77L98.94 389.45L100.38 389.11L101.83 388.76L103.27 388.39L104.71 388L106.15 387.59L107.59 387.17L109.04 386.72L110.48 386.25L111.92 385.76L113.36 385.25L114.8 384.71L116.25 384.15L117.69 383.56L119.13 382.95L120.57 382.31L122.01 381.65L123.46 380.95L124.9 380.23L126.34 379.47L127.78 378.69L129.22 377.87L130.67 377.02L132.11 376.14L133.55 375.23L134.99 374.28L136.43 373.3L137.88 372.28L139.32 371.24L140.76 370.15L142.2 369.03L143.64 367.88L145.09 366.69L146.53 365.47L147.97 364.22L149.41 362.93L150.85 361.61L152.3 360.26L153.74 358.88L155.18 357.47L156.62 356.03L158.06 354.57L159.51 353.08L160.95 351.56L162.39 350.03L163.83 348.47L165.27 346.9L166.72 345.3L168.16 343.7L169.6 342.08L171.04 340.46L172.48 338.83L173.93 337.19L175.37 335.55L176.81 333.91L178.25 332.27L179.69 330.64L181.14 329.02L182.58 327.4L184.02 325.8L185.46 324.21L186.9 322.64L188.35 321.09L189.79 319.56L191.23 318.05L192.67 316.56L194.11 315.1L195.56 313.67L197 312.26L198.44 310.89L199.88 309.54L201.32 308.23L202.77 306.95L204.21 305.7L205.65 304.49L207.09 303.31L208.53 302.16L209.98 301.05L211.42 299.97L212.86 298.93L214.3 297.92L215.74 296.95L217.19 296.01L218.63 295.1L220.07 294.23L221.51 293.38L222.95 292.57L224.4 291.79L225.84 291.05L227.28 290.33L228.72 289.64L230.16 288.98L231.61 288.34L233.05 287.73L234.49 287.15L235.93 286.6L237.37 286.06L238.82 285.56L240.26 285.07L241.7 284.61L243.14 284.16L244.58 283.74L246.03 283.34L247.47 282.95L248.91 282.59L250.35 282.24L251.79 281.9L253.24 281.59L254.68 281.29L256.12 281L257.56 280.73L259 280.47L260.45 280.22L261.89 279.98L263.33 279.76L264.77 279.55L266.21 279.35L267.66 279.15L269.1 278.97L270.54 278.8L271.98 278.64L273.42 278.48L274.87 278.33L276.31 278.19L277.75 278.06L279.19 277.93L280.63 277.81L282.08 277.7L283.52 277.59L284.96 277.49L286.4 277.39L287.84 277.3L289.29 277.21L290.73 277.13L292.17 277.05L293.61 276.97L295.05 276.9L296.5 276.84L297.94 276.77L299.38 276.71L300.82 276.66L302.26 276.6L303.71 276.55L305.15 276.5L306.59 276.46L308.03 276.41L309.47 276.37L310.92 276.33L312.36 276.3L313.8 276.26" stroke="#55ad55" stroke-width="0.85" fill="none"/><path d="M25.4 403.12L26.84 403.11L28.28 403.09L29.73 403.07L31.17 403.05L32.61 403.03L34.05 403.01L35.49 402.99L36.94 402.96L38.38 402.94L39.82 402.91L41.26 402.88L42.7 402.85L44.15 402.82L45.59 402.78L47.03 402.75L48.47 402.71L49.91 402.67L51.36 402.62L52.8 402.58L54.24 402.53L55.68 402.48L57.12 402.42L58.57 402.37L60.01 402.31L61.45 402.24L62.89 402.17L64.33 402.1L65.78 402.03L67.22 401.95L68.66 401.86L70.1 401.77L71.54 401.68L72.99 401.58L74.43 401.47L75.87 401.36L77.31 401.24L78.75 401.12L80.2 400.99L81.64 400.85L83.08 400.7L84.52 400.54L85.96 400.38L87.41 400.21L88.85 400.02L90.29 399.83L91.73 399.63L93.17 399.41L94.62 399.19L96.06 398.95L97.5 398.69L98.94 398.43L100.38 398.15L101.83 397.85L103.27 397.54L104.71 397.21L106.15 396.87L107.59 396.51L109.04 396.12L110.48 395.72L111.92 395.3L113.36 394.86L114.8 394.39L116.25 393.9L117.69 393.39L119.13 392.85L120.57 392.29L122.01 391.7L123.46 391.08L124.9 390.43L126.34 389.75L127.78 389.04L129.22 388.3L130.67 387.53L132.11 386.73L133.55 385.89L134.99 385.01L136.43 384.1L137.88 383.15L139.32 382.17L140.76 381.15L142.2 380.09L143.64 379L145.09 377.86L146.53 376.69L147.97 375.48L149.41 374.23L150.85 372.95L152.3 371.62L153.74 370.27L155.18 368.87L156.62 367.44L158.06 365.98L159.51 364.48L160.95 362.96L162.39 361.4L163.83 359.82L165.27 358.21L166.72 356.58L168.16 354.93L169.6 353.25L171.04 351.57L172.48 349.86L173.93 348.15L175.37 346.43L176.81 344.7L178.25 342.97L179.69 341.24L181.14 339.51L182.58 337.79L184.02 336.07L185.46 334.37L186.9 332.68L188.35 331L189.79 329.35L191.23 327.71L192.67 326.1L194.11 324.52L195.56 322.96L197 321.43L198.44 319.93L199.88 318.46L201.32 317.03L202.77 315.63L204.21 314.27L205.65 312.94L207.09 311.65L208.53 310.4L209.98 309.18L211.42 308.01L212.86 306.87L214.3 305.77L215.74 304.71L217.19 303.68L218.63 302.7L220.07 301.74L221.51 300.83L222.95 299.95L224.4 299.11L225.84 298.3L227.28 297.52L228.72 296.78L230.16 296.07L231.61 295.38L233.05 294.73L234.49 294.11L235.93 293.52L237.37 292.95L238.82 292.41L240.26 291.89L241.7 291.4L243.14 290.93L244.58 290.49L246.03 290.06L247.47 289.66L248.91 289.27L250.35 288.91L251.79 288.56L253.24 288.23L254.68 287.92L256.12 287.62L257.56 287.34L259 287.07L260.45 286.82L261.89 286.58L263.33 286.35L264.77 286.13L266.21 285.93L267.66 285.73L269.1 285.55L270.54 285.38L271.98 285.21L273.42 285.05L274.87 284.91L276.31 284.77L277.75 284.63L279.19 284.51L280.63 284.39L282.08 284.28L283.52 284.17L284.96 284.07L286.4 283.97L287.84 283.88L289.29 283.8L290.73 283.72L292.17 283.64L293.61 283.57L295.05 283.5L296.5 283.44L297.94 283.38L299.38 283.32L300.82 283.26L302.26 283.21L303.71 283.16L305.15 283.12L306.59 283.07L308.03 283.03L309.47 282.99L310.92 282.96L312.36 282.92L313.8 282.89" stroke="#ff5252" stroke-width="0.85" fill="none"/><path d="M25.4 399.12L26.84 399.1L28.28 399.09L29.73 399.07L31.17 399.06L32.61 399.04L34.05 399.02L35.49 399L36.94 398.98L38.38 398.95L39.82 398.93L41.26 398.9L42.7 398.87L44.15 398.85L45.59 398.81L47.03 398.78L48.47 398.75L49.91 398.71L51.36 398.67L52.8 398.63L54.24 398.58L55.68 398.54L57.12 398.49L58.57 398.44L60.01 398.38L61.45 398.32L62.89 398.26L64.33 398.19L65.78 398.12L67.22 398.05L68.66 397.97L70.1 397.88L71.54 397.79L72.99 397.7L74.43 397.6L75.87 397.49L77.31 397.38L78.75 397.26L80.2 397.14L81.64 397L83.08 396.86L84.52 396.71L85.96 396.56L87.41 396.39L88.85 396.21L90.29 396.03L91.73 395.83L93.17 395.62L94.62 395.4L96.06 395.17L97.5 394.92L98.94 394.66L100.38 394.39L101.83 394.1L103.27 393.79L104.71 393.47L106.15 393.13L107.59 392.77L109.04 392.4L110.48 392L111.92 391.58L113.36 391.14L114.8 390.68L116.25 390.2L117.69 389.69L119.13 389.15L120.57 388.59L122.01 388L123.46 387.38L124.9 386.74L126.34 386.06L127.78 385.36L129.22 384.62L130.67 383.85L132.11 383.05L133.55 382.21L134.99 381.34L136.43 380.43L137.88 379.49L139.32 378.52L140.76 377.51L142.2 376.46L143.64 375.38L145.09 374.26L146.53 373.11L147.97 371.92L149.41 370.7L150.85 369.45L152.3 368.16L153.74 366.84L155.18 365.49L156.62 364.12L158.06 362.71L159.51 361.28L160.95 359.83L162.39 358.36L163.83 356.87L165.27 355.36L166.72 353.84L168.16 352.3L169.6 350.76L171.04 349.21L172.48 347.66L173.93 346.11L175.37 344.55L176.81 343.01L178.25 341.47L179.69 339.94L181.14 338.42L182.58 336.92L184.02 335.43L185.46 333.97L186.9 332.53L188.35 331.11L189.79 329.71L191.23 328.35L192.67 327.01L194.11 325.71L195.56 324.43L197 323.19L198.44 321.98L199.88 320.81L201.32 319.67L202.77 318.56L204.21 317.5L205.65 316.46L207.09 315.47L208.53 314.5L209.98 313.58L211.42 312.69L212.86 311.83L214.3 311L215.74 310.21L217.19 309.46L218.63 308.73L220.07 308.04L221.51 307.37L222.95 306.74L224.4 306.13L225.84 305.55L227.28 305L228.72 304.48L230.16 303.98L231.61 303.5L233.05 303.05L234.49 302.62L235.93 302.21L237.37 301.82L238.82 301.45L240.26 301.1L241.7 300.77L243.14 300.45L244.58 300.15L246.03 299.87L247.47 299.6L248.91 299.35L250.35 299.1L251.79 298.88L253.24 298.66L254.68 298.46L256.12 298.26L257.56 298.08L259 297.91L260.45 297.75L261.89 297.59L263.33 297.45L264.77 297.31L266.21 297.18L267.66 297.05L269.1 296.94L270.54 296.83L271.98 296.73L273.42 296.63L274.87 296.54L276.31 296.45L277.75 296.37L279.19 296.29L280.63 296.22L282.08 296.15L283.52 296.08L284.96 296.02L286.4 295.96L287.84 295.91L289.29 295.86L290.73 295.81L292.17 295.76L293.61 295.72L295.05 295.68L296.5 295.64L297.94 295.6L299.38 295.57L300.82 295.54L302.26 295.51L303.71 295.48L305.15 295.45L306.59 295.43L308.03 295.4L309.47 295.38L310.92 295.36L312.36 295.34L313.8 295.32" stroke="#5c5cff" stroke-width="0.85" fill="none"/><ellipse cx="97.5" cy="394.91" rx="1.75" ry="2.25" fill="#0000f0"/><ellipse cx="147.9" cy="372.45" rx="1.75" ry="2.25" fill="#0000f0"/><ellipse cx="169.6" cy="349.8" rx="1.75" ry="2.25" fill="#0000f0"/><ellipse cx="191.3" cy="329.23" rx="1.75" ry="2.25" fill="#0000f0"/><ellipse cx="220" cy="307.71" rx="1.75" ry="2.25" fill="#0000f0"/><ellipse cx="97.5" cy="389.63" rx="1.75" ry="2.25" fill="#007000"/><ellipse cx="147.9" cy="365.47" rx="1.75" ry="2.25" fill="#007000"/><ellipse cx="169.6" cy="340.17" rx="1.75" ry="2.25" fill="#007000"/><ellipse cx="191.3" cy="319.22" rx="1.75" ry="2.25" fill="#007000"/><ellipse cx="220" cy="293.74" rx="1.75" ry="2.25" fill="#007000"/><ellipse cx="97.5" cy="398.5" rx="1.75" ry="2.25" fill="#f00000"/><ellipse cx="147.9" cy="375.47" rx="1.75" ry="2.25" fill="#f00000"/><ellipse cx="169.6" cy="353.39" rx="1.75" ry="2.25" fill="#f00000"/><ellipse cx="191.3" cy="327.53" rx="1.75" ry="2.25" fill="#f00000"/><ellipse cx="220" cy="302.05" rx="1.75" ry="2.25" fill="#f00000"/><text x="293" y="391.8" font-size="17.8" fill="#000">D</text></g>
<g><path d="M376.65 393.84H677.2M376.65 378.39H677.2M376.65 362.93H677.2M376.65 347.48H677.2M376.65 332.02H677.2M376.65 316.57H677.2M376.65 301.11H677.2M376.65 285.66H677.2M376.65 270.2H677.2" stroke="#dedede" stroke-width="1" stroke-dasharray="1 1.15" fill="none"/><path d="M451.04 270.2V408.3M526.42 270.2V408.3M601.81 270.2V408.3M677.2 270.2V408.3" stroke="#dedede" stroke-width="1" stroke-dasharray="1 1.9" fill="none"/><path d="M375.3 270.2V409.3M375.3 409.3H677.2M372.8 409.5H375.3M372.8 394.5H375.3M372.8 378.5H375.3M372.8 363.5H375.3M372.8 347.5H375.3M372.8 332.5H375.3M372.8 317.5H375.3M372.8 301.5H375.3M372.8 286.5H375.3M372.8 270.5H375.3M376.5 409.3V411.8M451.5 409.3V411.8M526.5 409.3V411.8M602.5 409.3V411.8M677.5 409.3V411.8" stroke="#bababa" stroke-width="1.3" fill="none"/><g font-size="8.3" fill="#6a6a6a"><text transform="translate(372.5 412.04) scale(0.72 1)" text-anchor="end">8</text><text transform="translate(372.5 396.58) scale(0.72 1)" text-anchor="end">16</text><text transform="translate(372.5 381.13) scale(0.72 1)" text-anchor="end">24</text><text transform="translate(372.5 365.67) scale(0.72 1)" text-anchor="end">32</text><text transform="translate(372.5 350.22) scale(0.72 1)" text-anchor="end">40</text><text transform="translate(372.5 334.76) scale(0.72 1)" text-anchor="end">48</text><text transform="translate(372.5 319.31) scale(0.72 1)" text-anchor="end">56</text><text transform="translate(372.5 303.85) scale(0.72 1)" text-anchor="end">64</text><text transform="translate(372.5 288.39) scale(0.72 1)" text-anchor="end">72</text><text transform="translate(372.5 272.94) scale(0.72 1)" text-anchor="end">80</text><text transform="translate(375.65 419) scale(0.72 1)" text-anchor="middle">1</text><text transform="translate(451.04 419) scale(0.72 1)" text-anchor="middle">10</text><text transform="translate(526.42 419) scale(0.72 1)" text-anchor="middle">100</text><text transform="translate(601.81 419) scale(0.72 1)" text-anchor="middle">1000</text><text transform="translate(677.2 419) scale(0.72 1)" text-anchor="middle">10000</text></g><text transform="translate(526.4 430) scale(0.72 1)" text-anchor="middle" font-size="8.5" fill="#555">X</text><text transform="translate(350.4 335.4) scale(1.03 0.92) rotate(-90)" text-anchor="middle" y="2.62" font-size="8.0" fill="#444">Y</text><path d="M375.65 391.54L377.16 391.52L378.67 391.51L380.17 391.5L381.68 391.49L383.19 391.47L384.7 391.46L386.2 391.44L387.71 391.42L389.22 391.4L390.73 391.38L392.24 391.36L393.74 391.34L395.25 391.32L396.76 391.29L398.27 391.26L399.77 391.24L401.28 391.21L402.79 391.17L404.3 391.14L405.81 391.1L407.31 391.06L408.82 391.02L410.33 390.98L411.84 390.93L413.34 390.88L414.85 390.83L416.36 390.77L417.87 390.71L419.37 390.65L420.88 390.58L422.39 390.51L423.9 390.43L425.41 390.35L426.91 390.26L428.42 390.17L429.93 390.07L431.44 389.97L432.94 389.86L434.45 389.74L435.96 389.62L437.47 389.49L438.98 389.35L440.48 389.2L441.99 389.04L443.5 388.87L445.01 388.69L446.51 388.5L448.02 388.3L449.53 388.09L451.04 387.87L452.55 387.63L454.05 387.38L455.56 387.11L457.07 386.83L458.58 386.53L460.08 386.21L461.59 385.87L463.1 385.52L464.61 385.14L466.12 384.75L467.62 384.33L469.13 383.89L470.64 383.42L472.15 382.93L473.65 382.41L475.16 381.86L476.67 381.29L478.18 380.68L479.68 380.05L481.19 379.38L482.7 378.67L484.21 377.94L485.72 377.17L487.22 376.36L488.73 375.51L490.24 374.63L491.75 373.7L493.25 372.74L494.76 371.73L496.27 370.69L497.78 369.6L499.29 368.47L500.79 367.29L502.3 366.08L503.81 364.82L505.32 363.52L506.82 362.18L508.33 360.8L509.84 359.38L511.35 357.92L512.86 356.42L514.36 354.89L515.87 353.32L517.38 351.72L518.89 350.1L520.39 348.44L521.9 346.76L523.41 345.06L524.92 343.34L526.42 341.61L527.93 339.86L529.44 338.1L530.95 336.34L532.46 334.57L533.96 332.8L535.47 331.04L536.98 329.29L538.49 327.55L539.99 325.82L541.5 324.11L543.01 322.42L544.52 320.75L546.03 319.11L547.53 317.5L549.04 315.91L550.55 314.36L552.06 312.85L553.56 311.37L555.07 309.93L556.58 308.53L558.09 307.17L559.6 305.85L561.1 304.57L562.61 303.34L564.12 302.14L565.63 300.99L567.13 299.88L568.64 298.82L570.15 297.79L571.66 296.81L573.17 295.86L574.67 294.96L576.18 294.09L577.69 293.27L579.2 292.48L580.7 291.72L582.21 291L583.72 290.32L585.23 289.67L586.74 289.05L588.24 288.46L589.75 287.9L591.26 287.37L592.77 286.86L594.27 286.38L595.78 285.93L597.29 285.5L598.8 285.09L600.3 284.71L601.81 284.34L603.32 284L604.83 283.67L606.34 283.36L607.84 283.07L609.35 282.8L610.86 282.54L612.37 282.29L613.87 282.06L615.38 281.84L616.89 281.63L618.4 281.44L619.91 281.26L621.41 281.09L622.92 280.92L624.43 280.77L625.94 280.63L627.44 280.49L628.95 280.36L630.46 280.24L631.97 280.13L633.48 280.02L634.98 279.92L636.49 279.82L638 279.74L639.51 279.65L641.01 279.57L642.52 279.5L644.03 279.43L645.54 279.36L647.05 279.3L648.55 279.24L650.06 279.19L651.57 279.14L653.08 279.09L654.58 279.04L656.09 279L657.6 278.96L659.11 278.92L660.61 278.89L662.12 278.85L663.63 278.82L665.14 278.79L666.65 278.76L668.15 278.74L669.66 278.71L671.17 278.69L672.68 278.67L674.18 278.65L675.69 278.63L677.2 278.61" stroke="#55ad55" stroke-width="0.85" fill="none"/><path d="M375.65 399.12L377.16 399.1L378.67 399.07L380.17 399.04L381.68 399L383.19 398.97L384.7 398.94L386.2 398.9L387.71 398.86L389.22 398.82L390.73 398.77L392.24 398.73L393.74 398.68L395.25 398.63L396.76 398.58L398.27 398.52L399.77 398.46L401.28 398.4L402.79 398.33L404.3 398.26L405.81 398.19L407.31 398.12L408.82 398.04L410.33 397.95L411.84 397.86L413.34 397.77L414.85 397.67L416.36 397.57L417.87 397.46L419.37 397.35L420.88 397.23L422.39 397.1L423.9 396.97L425.41 396.83L426.91 396.68L428.42 396.53L429.93 396.37L431.44 396.2L432.94 396.02L434.45 395.83L435.96 395.64L437.47 395.43L438.98 395.22L440.48 394.99L441.99 394.75L443.5 394.5L445.01 394.24L446.51 393.96L448.02 393.68L449.53 393.37L451.04 393.06L452.55 392.73L454.05 392.38L455.56 392.02L457.07 391.64L458.58 391.24L460.08 390.82L461.59 390.39L463.1 389.93L464.61 389.46L466.12 388.96L467.62 388.44L469.13 387.9L470.64 387.34L472.15 386.75L473.65 386.14L475.16 385.5L476.67 384.83L478.18 384.14L479.68 383.42L481.19 382.67L482.7 381.9L484.21 381.09L485.72 380.26L487.22 379.39L488.73 378.49L490.24 377.56L491.75 376.6L493.25 375.61L494.76 374.59L496.27 373.53L497.78 372.44L499.29 371.32L500.79 370.16L502.3 368.98L503.81 367.76L505.32 366.51L506.82 365.22L508.33 363.91L509.84 362.57L511.35 361.2L512.86 359.8L514.36 358.38L515.87 356.93L517.38 355.45L518.89 353.95L520.39 352.43L521.9 350.89L523.41 349.34L524.92 347.76L526.42 346.18L527.93 344.58L529.44 342.96L530.95 341.35L532.46 339.72L533.96 338.09L535.47 336.46L536.98 334.83L538.49 333.21L539.99 331.58L541.5 329.97L543.01 328.36L544.52 326.77L546.03 325.19L547.53 323.62L549.04 322.07L550.55 320.54L552.06 319.03L553.56 317.54L555.07 316.07L556.58 314.63L558.09 313.22L559.6 311.83L561.1 310.47L562.61 309.14L564.12 307.85L565.63 306.58L567.13 305.34L568.64 304.13L570.15 302.96L571.66 301.82L573.17 300.71L574.67 299.64L576.18 298.59L577.69 297.58L579.2 296.6L580.7 295.66L582.21 294.74L583.72 293.86L585.23 293L586.74 292.18L588.24 291.39L589.75 290.62L591.26 289.89L592.77 289.18L594.27 288.5L595.78 287.85L597.29 287.22L598.8 286.62L600.3 286.04L601.81 285.49L603.32 284.95L604.83 284.45L606.34 283.96L607.84 283.49L609.35 283.05L610.86 282.62L612.37 282.21L613.87 281.82L615.38 281.45L616.89 281.09L618.4 280.75L619.91 280.43L621.41 280.12L622.92 279.82L624.43 279.54L625.94 279.27L627.44 279.01L628.95 278.77L630.46 278.53L631.97 278.31L633.48 278.1L634.98 277.9L636.49 277.7L638 277.52L639.51 277.35L641.01 277.18L642.52 277.02L644.03 276.87L645.54 276.73L647.05 276.59L648.55 276.46L650.06 276.34L651.57 276.22L653.08 276.11L654.58 276.01L656.09 275.9L657.6 275.81L659.11 275.72L660.61 275.63L662.12 275.55L663.63 275.47L665.14 275.4L666.65 275.32L668.15 275.26L669.66 275.19L671.17 275.13L672.68 275.07L674.18 275.02L675.69 274.97L677.2 274.92" stroke="#ff5252" stroke-width="0.85" fill="none"/><path d="M375.65 394.48L377.16 394.47L378.67 394.45L380.17 394.44L381.68 394.42L383.19 394.4L384.7 394.38L386.2 394.36L387.71 394.34L389.22 394.32L390.73 394.29L392.24 394.27L393.74 394.24L395.25 394.21L396.76 394.18L398.27 394.15L399.77 394.11L401.28 394.08L402.79 394.04L404.3 394L405.81 393.96L407.31 393.91L408.82 393.86L410.33 393.81L411.84 393.76L413.34 393.7L414.85 393.64L416.36 393.58L417.87 393.51L419.37 393.44L420.88 393.36L422.39 393.28L423.9 393.19L425.41 393.1L426.91 393.01L428.42 392.9L429.93 392.8L431.44 392.68L432.94 392.56L434.45 392.44L435.96 392.3L437.47 392.16L438.98 392.01L440.48 391.85L441.99 391.68L443.5 391.5L445.01 391.32L446.51 391.12L448.02 390.91L449.53 390.69L451.04 390.45L452.55 390.21L454.05 389.95L455.56 389.67L457.07 389.38L458.58 389.08L460.08 388.76L461.59 388.42L463.1 388.06L464.61 387.69L466.12 387.29L467.62 386.87L469.13 386.44L470.64 385.98L472.15 385.49L473.65 384.99L475.16 384.45L476.67 383.9L478.18 383.31L479.68 382.7L481.19 382.06L482.7 381.39L484.21 380.68L485.72 379.95L487.22 379.19L488.73 378.39L490.24 377.56L491.75 376.69L493.25 375.79L494.76 374.85L496.27 373.88L497.78 372.87L499.29 371.83L500.79 370.75L502.3 369.63L503.81 368.48L505.32 367.29L506.82 366.06L508.33 364.8L509.84 363.5L511.35 362.18L512.86 360.81L514.36 359.42L515.87 358L517.38 356.55L518.89 355.07L520.39 353.57L521.9 352.04L523.41 350.49L524.92 348.93L526.42 347.35L527.93 345.75L529.44 344.15L530.95 342.54L532.46 340.92L533.96 339.29L535.47 337.67L536.98 336.05L538.49 334.44L539.99 332.83L541.5 331.24L543.01 329.66L544.52 328.09L546.03 326.54L547.53 325.02L549.04 323.51L550.55 322.03L552.06 320.58L553.56 319.15L555.07 317.76L556.58 316.4L558.09 315.07L559.6 313.77L561.1 312.51L562.61 311.28L564.12 310.09L565.63 308.93L567.13 307.81L568.64 306.73L570.15 305.68L571.66 304.67L573.17 303.7L574.67 302.76L576.18 301.85L577.69 300.99L579.2 300.15L580.7 299.35L582.21 298.59L583.72 297.85L585.23 297.15L586.74 296.48L588.24 295.83L589.75 295.22L591.26 294.63L592.77 294.07L594.27 293.54L595.78 293.03L597.29 292.55L598.8 292.08L600.3 291.65L601.81 291.23L603.32 290.83L604.83 290.46L606.34 290.1L607.84 289.76L609.35 289.44L610.86 289.13L612.37 288.84L613.87 288.56L615.38 288.3L616.89 288.06L618.4 287.82L619.91 287.6L621.41 287.39L622.92 287.19L624.43 287L625.94 286.82L627.44 286.66L628.95 286.5L630.46 286.34L631.97 286.2L633.48 286.07L634.98 285.94L636.49 285.82L638 285.7L639.51 285.6L641.01 285.5L642.52 285.4L644.03 285.31L645.54 285.22L647.05 285.14L648.55 285.06L650.06 284.99L651.57 284.92L653.08 284.86L654.58 284.8L656.09 284.74L657.6 284.69L659.11 284.64L660.61 284.59L662.12 284.54L663.63 284.5L665.14 284.46L666.65 284.42L668.15 284.38L669.66 284.35L671.17 284.32L672.68 284.29L674.18 284.26L675.69 284.23L677.2 284.2" stroke="#5c5cff" stroke-width="0.85" fill="none"/><ellipse cx="451.04" cy="390.75" rx="1.65" ry="2.15" fill="#0000f0"/><ellipse cx="503.73" cy="368.73" rx="1.65" ry="2.15" fill="#0000f0"/><ellipse cx="526.42" cy="346.7" rx="1.65" ry="2.15" fill="#0000f0"/><ellipse cx="549.12" cy="324.1" rx="1.65" ry="2.15" fill="#0000f0"/><ellipse cx="579.12" cy="300.72" rx="1.65" ry="2.15" fill="#0000f0"/><ellipse cx="451.04" cy="387.66" rx="1.65" ry="2.15" fill="#007000"/><ellipse cx="503.73" cy="365.83" rx="1.65" ry="2.15" fill="#007000"/><ellipse cx="526.42" cy="340.14" rx="1.65" ry="2.15" fill="#007000"/><ellipse cx="549.12" cy="316.76" rx="1.65" ry="2.15" fill="#007000"/><ellipse cx="579.12" cy="292.03" rx="1.65" ry="2.15" fill="#007000"/><ellipse cx="451.04" cy="392.69" rx="1.65" ry="2.15" fill="#f00000"/><ellipse cx="503.73" cy="368.73" rx="1.65" ry="2.15" fill="#f00000"/><ellipse cx="526.42" cy="344.97" rx="1.65" ry="2.15" fill="#f00000"/><ellipse cx="549.12" cy="322.94" rx="1.65" ry="2.15" fill="#f00000"/><ellipse cx="579.12" cy="297.25" rx="1.65" ry="2.15" fill="#f00000"/><text x="641.8" y="391.8" font-size="17.8" fill="#000">E</text></g>
<g><path d="M168.85 533.76H553.6M168.85 523.11H553.6M168.85 512.47H553.6M168.85 501.82H553.6M168.85 491.18H553.6M168.85 480.53H553.6M168.85 469.89H553.6M168.85 459.24H553.6M168.85 448.6H553.6" stroke="#dedede" stroke-width="1" stroke-dasharray="1.3 1.7" fill="none"/><path d="M264.29 448.6V543.4M360.73 448.6V543.4M457.16 448.6V543.4M553.6 448.6V543.4" stroke="#dedede" stroke-width="1" stroke-dasharray="1 1.9" fill="none"/><path d="M167.85 448.6V544.4M167.85 544.4H553.6M165.35 544.5H167.85M165.35 534.5H167.85M165.35 523.5H167.85M165.35 512.5H167.85M165.35 502.5H167.85M165.35 491.5H167.85M165.35 481.5H167.85M165.35 470.5H167.85M165.35 459.5H167.85M165.35 449.5H167.85M168.5 544.4V546.9M264.5 544.4V546.9M361.5 544.4V546.9M457.5 544.4V546.9M554.5 544.4V546.9" stroke="#bababa" stroke-width="1.3" fill="none"/><g font-size="5.8" fill="#6a6a6a" font-weight="bold"><text transform="translate(163.65 546.91) scale(1.3 1)" text-anchor="end">0</text><text transform="translate(163.65 536.27) scale(1.3 1)" text-anchor="end">9</text><text transform="translate(163.65 525.63) scale(1.3 1)" text-anchor="end">18</text><text transform="translate(163.65 514.98) scale(1.3 1)" text-anchor="end">27</text><text transform="translate(163.65 504.34) scale(1.3 1)" text-anchor="end">36</text><text transform="translate(163.65 493.69) scale(1.3 1)" text-anchor="end">45</text><text transform="translate(163.65 483.05) scale(1.3 1)" text-anchor="end">54</text><text transform="translate(163.65 472.4) scale(1.3 1)" text-anchor="end">63</text><text transform="translate(163.65 461.76) scale(1.3 1)" text-anchor="end">72</text><text transform="translate(163.65 451.11) scale(1.3 1)" text-anchor="end">81</text><text transform="translate(167.85 551.1) scale(1.3 1)" text-anchor="middle">1</text><text transform="translate(264.29 551.1) scale(1.3 1)" text-anchor="middle">10</text><text transform="translate(360.73 551.1) scale(1.3 1)" text-anchor="middle">100</text><text transform="translate(457.16 551.1) scale(1.3 1)" text-anchor="middle">1000</text><text transform="translate(553.6 551.1) scale(1.3 1)" text-anchor="middle">10000</text></g><text transform="translate(361 559.6) scale(1.3 1)" text-anchor="middle" font-size="7.0" fill="#555">X</text><text transform="translate(135.7 493.5) scale(1.55 0.95) rotate(-90)" text-anchor="middle" y="1.97" font-size="6.0" fill="#444">Y</text><path d="M167.85 538.13L169.78 538.13L171.71 538.13L173.64 538.13L175.56 538.13L177.49 538.13L179.42 538.12L181.35 538.12L183.28 538.12L185.21 538.12L187.14 538.12L189.07 538.12L191 538.12L192.92 538.12L194.85 538.12L196.78 538.12L198.71 538.12L200.64 538.12L202.57 538.12L204.5 538.12L206.43 538.12L208.35 538.12L210.28 538.12L212.21 538.11L214.14 538.11L216.07 538.11L218 538.11L219.93 538.11L221.85 538.11L223.78 538.1L225.71 538.1L227.64 538.1L229.57 538.1L231.5 538.09L233.43 538.09L235.36 538.08L237.28 538.08L239.21 538.07L241.14 538.07L243.07 538.06L245 538.06L246.93 538.05L248.86 538.04L250.79 538.03L252.71 538.02L254.64 538.01L256.57 538L258.5 537.98L260.43 537.97L262.36 537.95L264.29 537.93L266.22 537.91L268.14 537.89L270.07 537.87L272 537.84L273.93 537.81L275.86 537.77L277.79 537.74L279.72 537.7L281.65 537.65L283.57 537.6L285.5 537.55L287.43 537.49L289.36 537.42L291.29 537.34L293.22 537.26L295.15 537.17L297.08 537.07L299 536.97L300.93 536.85L302.86 536.71L304.79 536.57L306.72 536.41L308.65 536.23L310.58 536.03L312.51 535.82L314.44 535.58L316.36 535.33L318.29 535.04L320.22 534.73L322.15 534.39L324.08 534.02L326.01 533.61L327.94 533.16L329.87 532.67L331.79 532.14L333.72 531.56L335.65 530.93L337.58 530.24L339.51 529.5L341.44 528.69L343.37 527.82L345.3 526.88L347.22 525.87L349.15 524.79L351.08 523.63L353.01 522.39L354.94 521.08L356.87 519.68L358.8 518.2L360.73 516.64L362.65 515.01L364.58 513.3L366.51 511.52L368.44 509.68L370.37 507.77L372.3 505.81L374.23 503.81L376.15 501.77L378.08 499.71L380.01 497.63L381.94 495.54L383.87 493.46L385.8 491.39L387.73 489.34L389.66 487.33L391.58 485.36L393.51 483.45L395.44 481.59L397.37 479.8L399.3 478.07L401.23 476.42L403.16 474.85L405.09 473.36L407.01 471.94L408.94 470.61L410.87 469.36L412.8 468.18L414.73 467.08L416.66 466.06L418.59 465.11L420.52 464.22L422.44 463.4L424.37 462.65L426.3 461.95L428.23 461.31L430.16 460.72L432.09 460.17L434.02 459.68L435.95 459.22L437.88 458.81L439.8 458.42L441.73 458.08L443.66 457.76L445.59 457.47L447.52 457.21L449.45 456.97L451.38 456.75L453.3 456.55L455.23 456.37L457.16 456.21L459.09 456.06L461.02 455.92L462.95 455.8L464.88 455.69L466.81 455.59L468.74 455.49L470.66 455.41L472.59 455.34L474.52 455.27L476.45 455.21L478.38 455.15L480.31 455.1L482.24 455.05L484.16 455.01L486.09 454.97L488.02 454.94L489.95 454.91L491.88 454.88L493.81 454.86L495.74 454.83L497.67 454.81L499.6 454.79L501.52 454.78L503.45 454.76L505.38 454.75L507.31 454.73L509.24 454.72L511.17 454.71L513.1 454.7L515.02 454.69L516.95 454.69L518.88 454.68L520.81 454.67L522.74 454.67L524.67 454.66L526.6 454.66L528.53 454.65L530.45 454.65L532.38 454.65L534.31 454.64L536.24 454.64L538.17 454.64L540.1 454.64L542.03 454.63L543.96 454.63L545.88 454.63L547.81 454.63L549.74 454.63L551.67 454.63L553.6 454.62" stroke="#5c5cff" stroke-width="0.85" fill="none"/><ellipse cx="264.29" cy="540.02" rx="2.2" ry="1.5" fill="#0000f0"/><ellipse cx="331.69" cy="529.5" rx="2.2" ry="1.5" fill="#0000f0"/><ellipse cx="360.73" cy="517.91" rx="2.2" ry="1.5" fill="#0000f0"/><ellipse cx="389.76" cy="484.91" rx="2.2" ry="1.5" fill="#0000f0"/><ellipse cx="428.13" cy="461.61" rx="2.2" ry="1.5" fill="#0000f0"/><text x="512" y="528" font-size="17.8" fill="#000">F</text></g>
</svg>
</body></html>
